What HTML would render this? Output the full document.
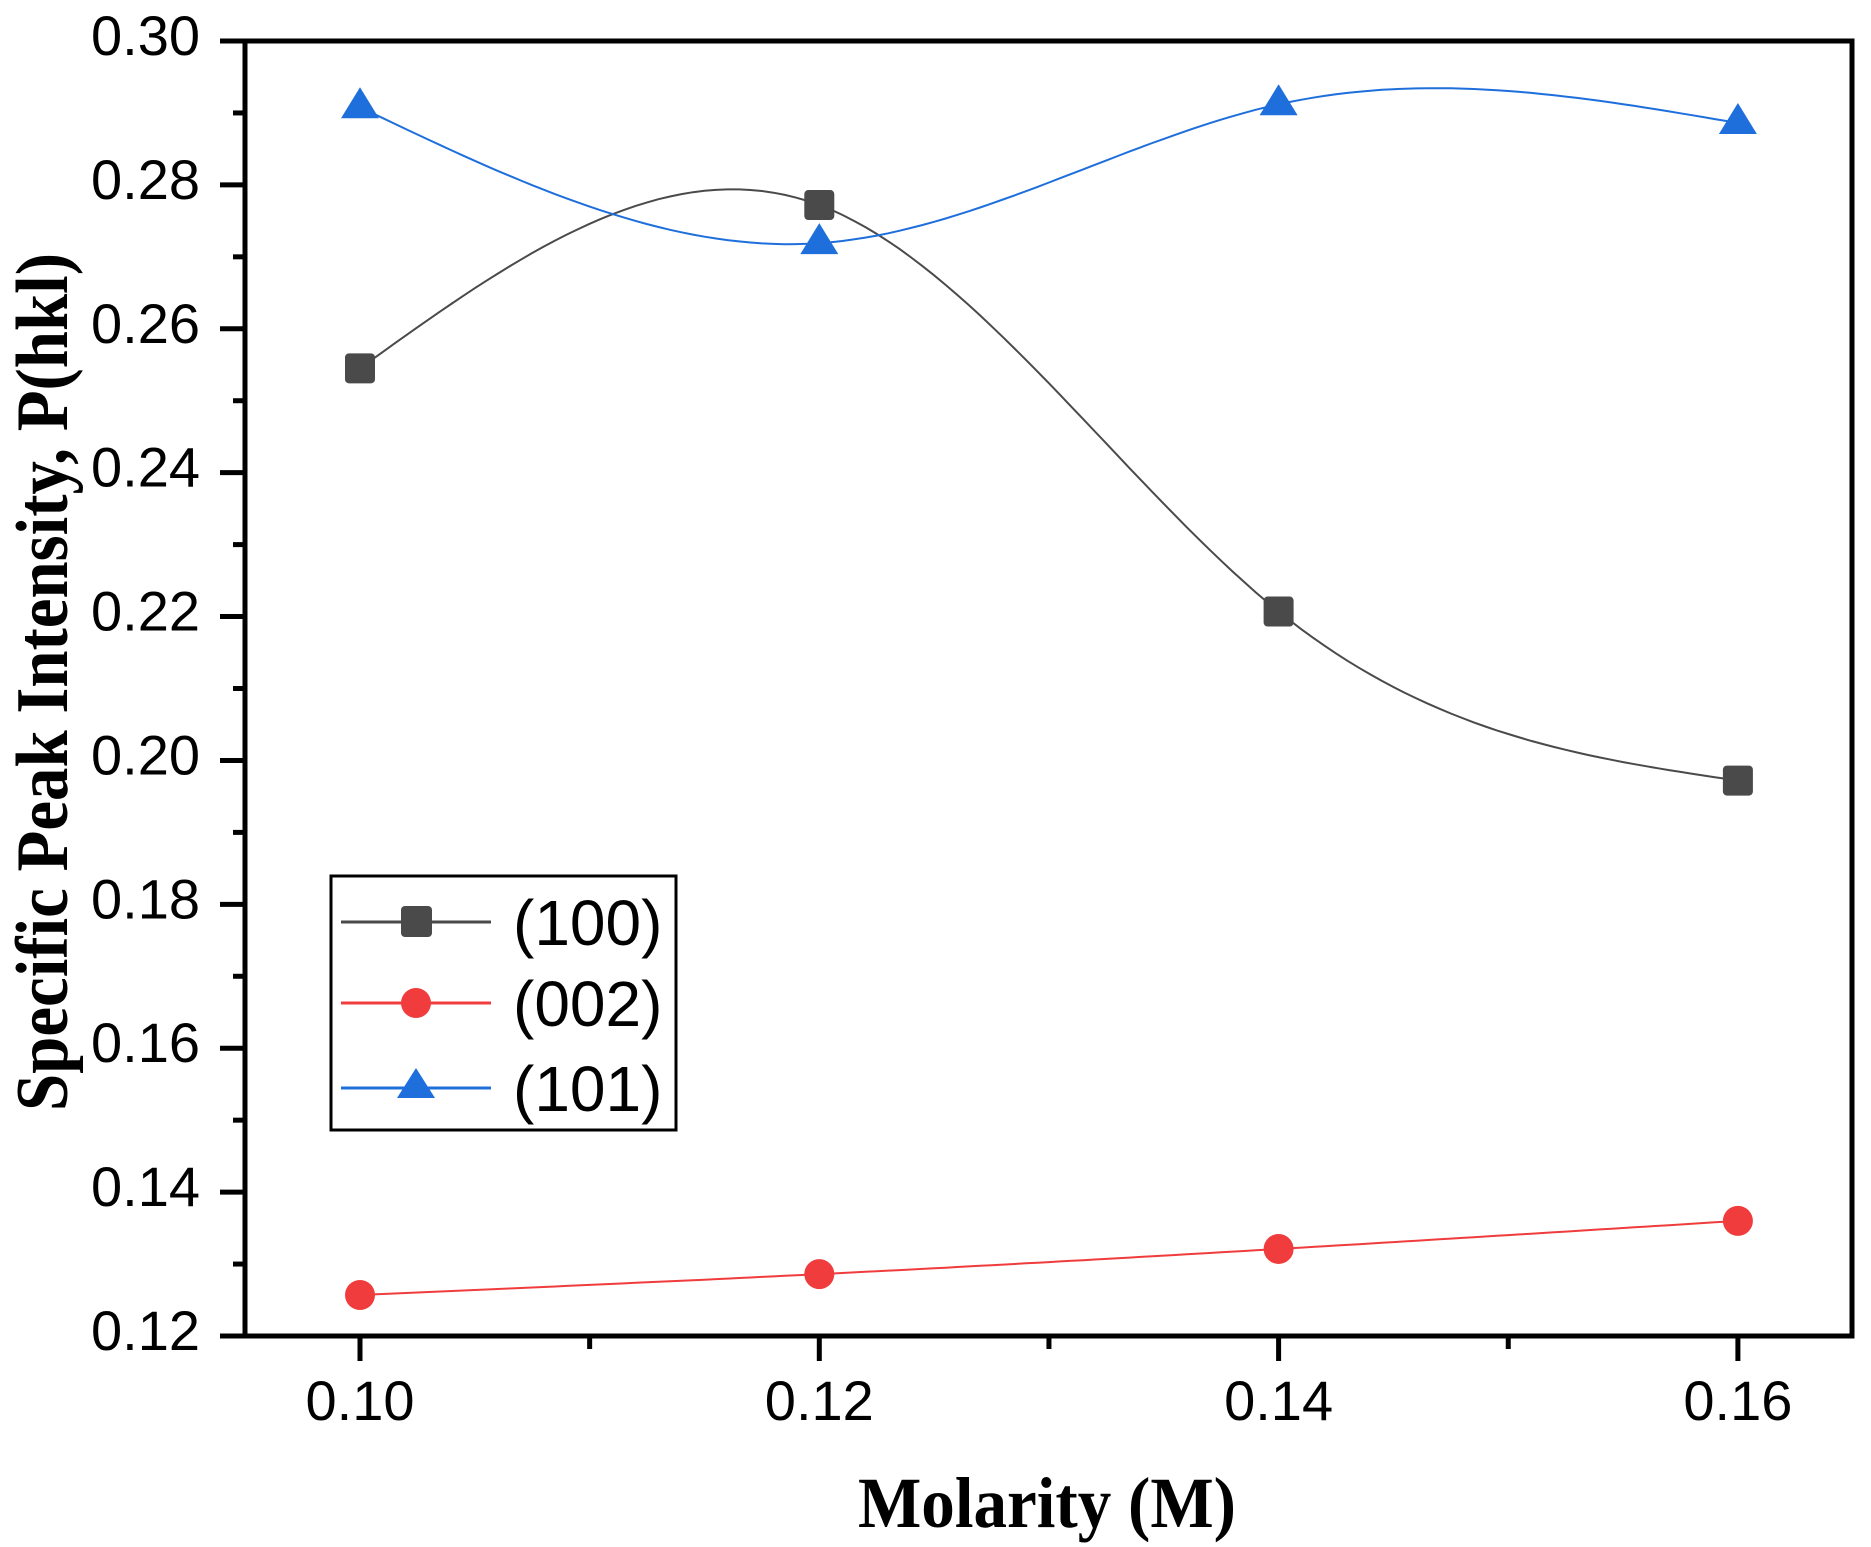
<!DOCTYPE html>
<html><head><meta charset="utf-8"><style>body{margin:0;background:#fff}svg{display:block}</style></head>
<body>
<svg id="s" width="1871" height="1547" viewBox="0 0 1871 1547" xmlns="http://www.w3.org/2000/svg" font-family="Liberation Sans, sans-serif">
<g id="ticks" stroke="#000" stroke-width="5"></g>
<g id="series"></g>
<rect x="245" y="41" width="1607" height="1295" fill="none" stroke="#000" stroke-width="5"/>
<g id="labels" font-size="56" fill="#000"></g>
<text x="1047" y="1527" font-family="Liberation Serif, serif" font-weight="bold" font-size="72" text-anchor="middle" textLength="378" lengthAdjust="spacingAndGlyphs">Molarity (M)</text>
<text transform="translate(67,682) rotate(-90)" font-family="Liberation Serif, serif" font-weight="bold" font-size="74" text-anchor="middle" textLength="858" lengthAdjust="spacingAndGlyphs">Specific Peak Intensity, P(hkl)</text>
<g>
<rect x="331" y="876" width="345" height="254" fill="#fff" stroke="#000" stroke-width="3"/>
<line x1="341" y1="922" x2="491" y2="922" stroke="#4a4a4a" stroke-width="3"/>
<rect x="401" y="906" width="31" height="31" rx="4" fill="#4a4a4a"/>
<line x1="341" y1="1003" x2="491" y2="1003" stroke="#f03c3c" stroke-width="3"/>
<circle cx="416" cy="1003" r="15" fill="#f03c3c"/>
<line x1="341" y1="1088" x2="491" y2="1088" stroke="#1e6fdc" stroke-width="3"/>
<polygon points="416,1068 397,1098 435,1098" fill="#1e6fdc"/>
<g font-size="64" fill="#000"><text x="513" y="945">(100)</text><text x="513" y="1026">(002)</text><text x="513" y="1111">(101)</text></g>
</g>
</svg>
<script>
var NS="http://www.w3.org/2000/svg";
function X(v){return 360+(v-0.10)/0.02*459.3;}
function Y(v){return 41+(0.30-v)/0.18*1295;}
function el(t,a,p){var e=document.createElementNS(NS,t);for(var k in a)e.setAttribute(k,a[k]);if(p)p.appendChild(e);return e;}
var tk=document.getElementById('ticks'),lb=document.getElementById('labels');
for(var i=0;i<=18;i++){var v=0.12+i*0.01,y=Y(v),maj=i%2==0;
 el('line',{x1:maj?220:233,y1:y,x2:245,y2:y},tk);
 if(maj){var t=el('text',{x:200,y:y+14,'text-anchor':'end'},lb);t.textContent=v.toFixed(2);}}
for(var i=0;i<=7;i++){var v=0.10+i*0.01;if(v>0.1601)break;var x=X(v),maj=i%2==0;
 el('line',{x1:x,y1:1336,x2:x,y2:maj?1361:1349},tk);
 if(maj){var t=el('text',{x:x,y:1420,'text-anchor':'middle'},lb);t.textContent=v.toFixed(2);}}
function spline(xs,ys){var n=xs.length,h=[],a=[],l=[1],mu=[0],z=[0],c=new Array(n).fill(0),b=[],d=[];
 for(var i=0;i<n-1;i++)h[i]=xs[i+1]-xs[i];
 for(var i=1;i<n-1;i++)a[i]=3/h[i]*(ys[i+1]-ys[i])-3/h[i-1]*(ys[i]-ys[i-1]);
 for(var i=1;i<n-1;i++){l[i]=2*(xs[i+1]-xs[i-1])-h[i-1]*mu[i-1];mu[i]=h[i]/l[i];z[i]=(a[i]-h[i-1]*z[i-1])/l[i];}
 for(var j=n-2;j>=0;j--){c[j]=j==0?0:z[j]-mu[j]*c[j+1];if(j==0)c[0]=0;b[j]=(ys[j+1]-ys[j])/h[j]-h[j]*(c[j+1]+2*c[j])/3;d[j]=(c[j+1]-c[j])/(3*h[j]);}
 var pts=[];for(var j=0;j<n-1;j++)for(var k=0;k<=40;k++){var dx=h[j]*k/40;pts.push([xs[j]+dx,ys[j]+b[j]*dx+c[j]*dx*dx+d[j]*dx*dx*dx]);}
 return pts;}
var xs=[0.10,0.12,0.14,0.16];
var S=[{y:[0.2545,0.2772,0.2207,0.1972],c:'#4a4a4a',m:'s'},{y:[0.1257,0.1286,0.1321,0.1360],c:'#f03c3c',m:'c'},{y:[0.2908,0.2719,0.2912,0.2886],c:'#1e6fdc',m:'t'}];
var g=document.getElementById('series');
S.forEach(function(s){var p=spline(xs,s.y).map(function(q){return X(q[0]).toFixed(1)+','+Y(q[1]).toFixed(1);}).join(' ');
 el('polyline',{points:p,fill:'none',stroke:s.c,'stroke-width':2},g);
 xs.forEach(function(x,i){var cx=X(x),cy=Y(s.y[i]);
  if(s.m=='s')el('rect',{x:cx-15,y:cy-15,width:30,height:30,rx:4,fill:s.c},g);
  else if(s.m=='c')el('circle',{cx:cx,cy:cy,r:15,fill:s.c},g);
  else el('polygon',{points:cx+','+(cy-20)+' '+(cx-19)+','+(cy+11)+' '+(cx+19)+','+(cy+11),fill:s.c},g);});});
</script>
</body></html>
